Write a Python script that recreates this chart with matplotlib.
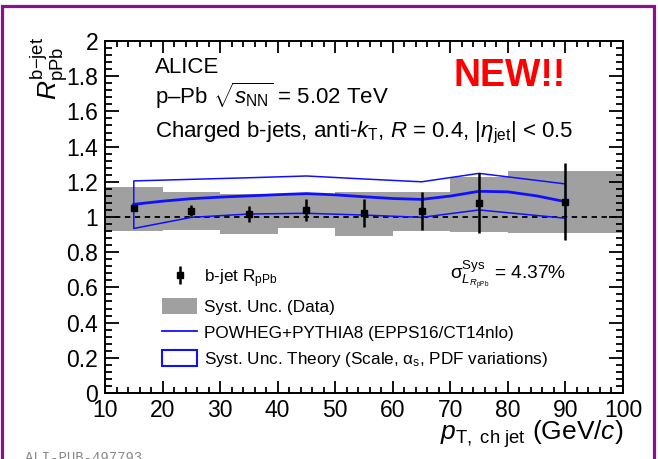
import matplotlib
matplotlib.use("Agg")
import matplotlib.pyplot as plt
from matplotlib.patches import Patch, Rectangle
from matplotlib.lines import Line2D
from matplotlib.ticker import MultipleLocator, FixedLocator, FixedFormatter

plt.rcParams['font.family'] = ['Liberation Sans', 'DejaVu Sans']
plt.rcParams['mathtext.fontset'] = 'custom'
plt.rcParams['mathtext.rm'] = 'Liberation Sans'
plt.rcParams['mathtext.it'] = 'Liberation Sans:italic'
plt.rcParams['mathtext.bf'] = 'Liberation Sans:bold'

# ---------------- data ----------------
bin_edges = [10, 20, 30, 40, 50, 60, 70, 80, 100]
pt_centers = [15, 25, 35, 45, 55, 65, 75, 90]
rppb = [1.049, 1.036, 1.017, 1.040, 1.024, 1.034, 1.081, 1.087]
stat_err = [0.015, 0.031, 0.043, 0.062, 0.080, 0.110, 0.170, 0.220]
syst_hi = [1.169, 1.140, 1.128, 1.128, 1.144, 1.144, 1.225, 1.263]
syst_lo = [0.922, 0.926, 0.903, 0.940, 0.894, 0.920, 0.917, 0.907]

band_x = [15, 25, 35, 45, 55, 65, 75, 90]
band_up = [1.205, 1.214, 1.223, 1.233, 1.216, 1.200, 1.248, 1.188]
band_lo = [0.935, 0.998, 1.017, 1.021, 1.011, 0.998, 1.040, 0.993]

theory_x = [15, 20, 25, 30, 35, 40, 45, 50, 55, 60, 65, 70, 75, 80, 85, 90]
theory_y = [1.072, 1.090, 1.104, 1.113, 1.120, 1.127, 1.133, 1.126, 1.115,
            1.105, 1.100, 1.119, 1.146, 1.143, 1.120, 1.087]

y_ticks = [0, 0.2, 0.4, 0.6, 0.8, 1.0, 1.2, 1.4, 1.6, 1.8, 2.0]
y_ticklabels = ["0", "0.2", "0.4", "0.6", "0.8", "1", "1.2", "1.4", "1.6", "1.8", "2"]
x_ticks = [10, 20, 30, 40, 50, 60, 70, 80, 90, 100]
x_ticklabels = ["10", "20", "30", "40", "50", "60", "70", "80", "90", "100"]

W, H = 658, 459
fig = plt.figure(figsize=(W / 100, H / 100), dpi=100)
ax = fig.add_axes([105 / W, 1 - 393 / H, 518 / W, 352 / H])

gray = '#a0a0a0'
blue = '#1010ff'

# systematic boxes
for i in range(len(pt_centers)):
    ax.add_patch(Rectangle((bin_edges[i], syst_lo[i]), bin_edges[i + 1] - bin_edges[i],
                           syst_hi[i] - syst_lo[i], facecolor=gray, edgecolor='none', zorder=1))

ax.axhline(1.0, color='black', ls=(0, (3, 2.5)), lw=1.3, zorder=2)

# theory band outline and central line
ax.fill_between(band_x, band_lo, band_up, facecolor='none', edgecolor=blue, lw=1.1, zorder=3)
ax.plot(theory_x, theory_y, color=blue, lw=2.0, zorder=4)

# data
eb = ax.errorbar(pt_centers, rppb, yerr=stat_err, fmt='s', color='black', ms=5,
                 elinewidth=1.8, capsize=0, zorder=5)

ax.set_xlim(10, 100)
ax.set_ylim(0, 2)
ax.xaxis.set_major_locator(FixedLocator(x_ticks))
ax.xaxis.set_major_formatter(FixedFormatter(x_ticklabels))
ax.xaxis.set_minor_locator(MultipleLocator(2))
ax.yaxis.set_major_locator(FixedLocator(y_ticks))
ax.yaxis.set_major_formatter(FixedFormatter(y_ticklabels))
ax.yaxis.set_minor_locator(MultipleLocator(0.04))
ax.tick_params(which='both', direction='in', top=True, right=True, width=1.3,
               labelsize=16.5, colors='black')
ax.tick_params(axis='y', which='major', length=10, pad=5)
ax.tick_params(axis='y', which='minor', length=5)
ax.tick_params(axis='x', which='major', length=8.6, pad=4)
ax.tick_params(axis='x', which='minor', length=4.3)
for s in ax.spines.values():
    s.set_linewidth(1.4)

# axis titles
fig.text(49 / W, 1 - 37 / H, r'$R^{\rm b\mathrm{-}jet}_{\rm pPb}$', rotation=90,
         ha='center', va='top', fontsize=19)
fig.text(623 / W, 1 - 440 / H, r'$p_{\rm T,\ ch\ jet}$ (GeV/$c$)', ha='right',
         va='baseline', fontsize=19)

# annotations
fig.text(155 / W, 1 - 73 / H, 'ALICE', fontsize=16, va='baseline')
fig.text(155 / W, 1 - 104 / H, r'p–Pb $\sqrt{s_{\rm NN}}$ = 5.02 TeV', fontsize=16,
         va='baseline')
fig.text(155 / W, 1 - 137 / H,
         r'Charged b-jets, anti-$k_{\rm T}$, $R$ = 0.4, |$\eta_{\rm jet}$| < 0.5',
         fontsize=16, va='baseline')
fig.text(453 / W, 1 - 86 / H, 'NEW!!', color='#ff0000', fontsize=27, fontweight='bold',
         va='baseline')
fig.text(450 / W, 1 - 279 / H, r'$\mathrm{σ}^{\rm Sys}_{L_{R_{\rm pPb}}}$ = 4.37%',
         fontsize=13.8, va='baseline')

handles = [
    eb,
    Patch(facecolor=gray, edgecolor='none'),
    Line2D([], [], color=blue, lw=1.3),
    Patch(facecolor='white', edgecolor=blue, lw=1.5),
]
labels = [
    r'b-jet R$_{\rm pPb}$',
    'Syst. Unc. (Data)',
    'POWHEG+PYTHIA8 (EPPS16/CT14nlo)',
    r'Syst. Unc. Theory (Scale, $\mathrm{α}_{\rm s}$, PDF variations)',
]
leg = fig.legend(handles, labels, loc='upper left', bbox_to_anchor=(162 / W, 1 - 267 / H),
                 frameon=False, fontsize=12.3, handlelength=2.05, handleheight=1.05,
                 labelspacing=0.52, handletextpad=0.4, borderpad=0, borderaxespad=0)

fig.text(25 / W, 1 - 451 / H, 'ALI-PUB-497793', family='Liberation Mono', color='#888888',
         fontsize=10, va='top')

# purple frame
fig.patches.append(Rectangle((1.5 / W, -0.05), 652 / W, 1.05 - 5.5 / H,
                             transform=fig.transFigure, facecolor='none',
                             edgecolor='#8e0f8e', lw=2.3, zorder=10))

fig.savefig('out.png', dpi=100)
